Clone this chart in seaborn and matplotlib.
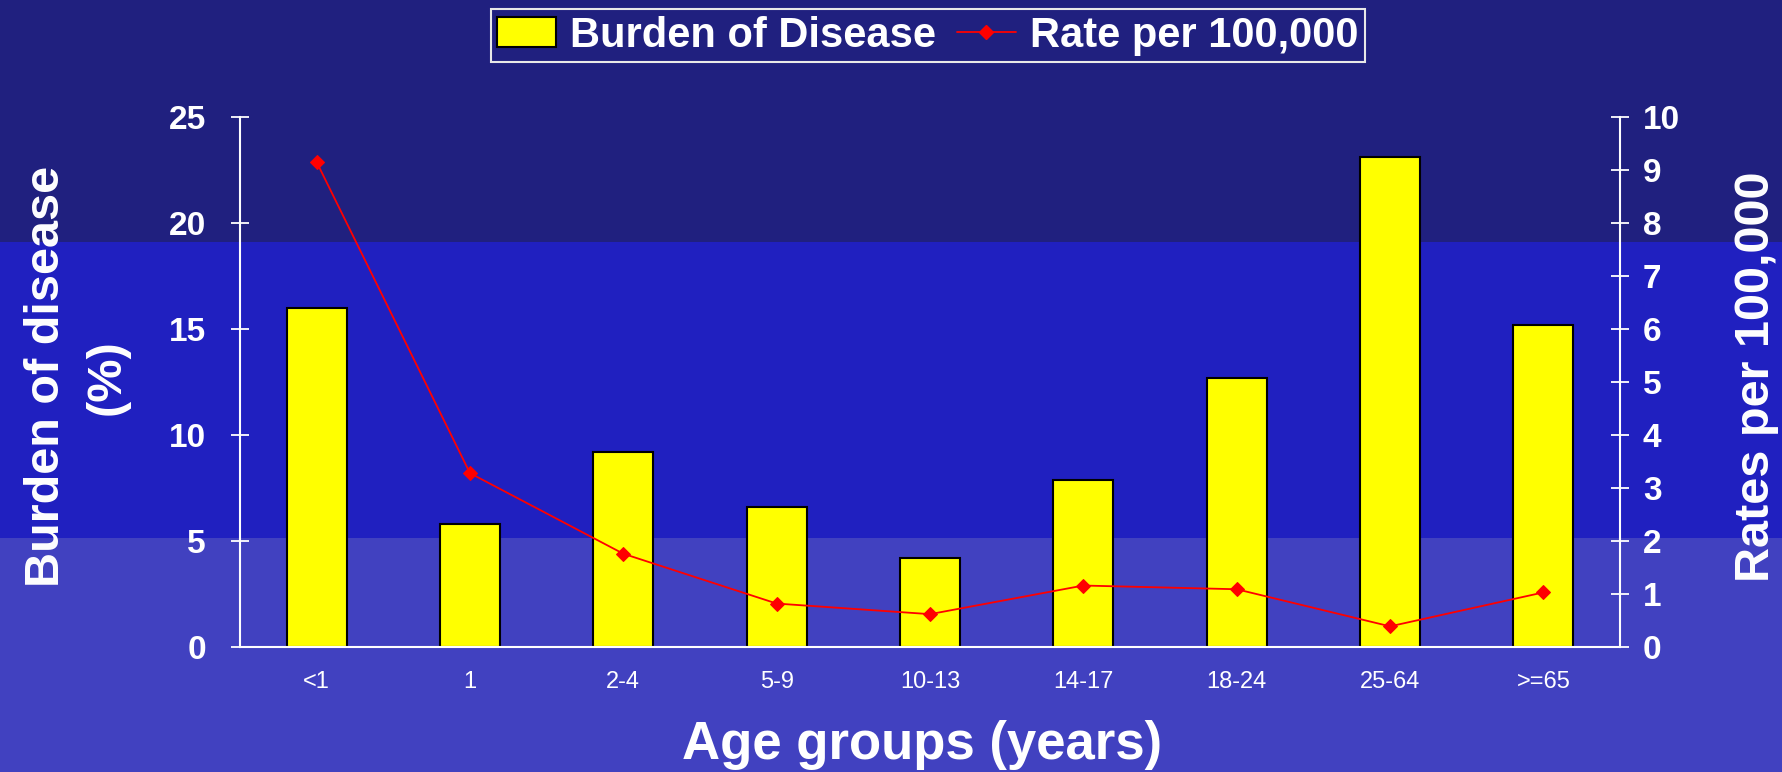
import numpy as np
import pandas as pd
import matplotlib
matplotlib.use("Agg")
import matplotlib.pyplot as plt
from matplotlib import font_manager
from matplotlib.patches import Rectangle, Patch
from matplotlib.lines import Line2D
import seaborn as sns

# ---- data ---------------------------------------------------------------
age_groups = ["<1", "1", "2-4", "5-9", "10-13", "14-17", "18-24", "25-64", ">=65"]
burden_pct = [16.0, 5.8, 9.2, 6.6, 4.2, 7.9, 12.7, 23.1, 15.2]
rate_per_100k = [9.15, 3.28, 1.76, 0.82, 0.62, 1.16, 1.09, 0.39, 1.03]

burden_ticks = [0, 5, 10, 15, 20, 25]
rate_ticks = list(range(0, 11))

# ---- style --------------------------------------------------------------
sns.set_theme(style="white")
available = {f.name for f in font_manager.fontManager.ttflist}
BOLD_FONT = "Liberation Sans"
NARROW_FONT = "Liberation Sans Narrow" if "Liberation Sans Narrow" in available else "Liberation Sans"
plt.rcParams["font.family"] = [BOLD_FONT, "DejaVu Sans"]

BAND_TOP = "#20207f"
BAND_MID = "#2020c0"
BAND_LOW = "#4141c0"
WHITE = "white"

fig = plt.figure(figsize=(17.83, 7.72), dpi=100)
fig.patch.set_facecolor(BAND_LOW)

# three horizontal background bands
for y0, h, c in [(0.0, 0.3031, BAND_LOW), (0.3031, 0.3834, BAND_MID), (0.6865, 0.3135, BAND_TOP)]:
    fig.add_artist(Rectangle((0, y0), 1, h, transform=fig.transFigure,
                             facecolor=c, edgecolor="none", zorder=-10))

ax = fig.add_axes([0.1346, 0.1619, 0.774, 0.6865])
ax.set_facecolor("none")

df = pd.DataFrame({"age": age_groups, "burden": burden_pct, "rate": rate_per_100k})

sns.barplot(data=df, x="age", y="burden", ax=ax, color="#ffff00", saturation=1,
            edgecolor="black", linewidth=1.5, width=0.39, zorder=2)

ax.set_ylim(0, 25)
ax.set_xlim(-0.5, len(age_groups) - 0.5)
ax.set_yticks(burden_ticks)
ax.set_yticklabels([str(t) for t in burden_ticks], fontsize=24, fontweight="bold", color=WHITE)

# category boundary ticks on the x axis, labels at the centres
ax.set_xticks(np.arange(len(age_groups)))
ax.set_xticklabels(age_groups, fontsize=17, color=WHITE, family=[NARROW_FONT, "DejaVu Sans"])
ax.set_xticks(np.arange(len(age_groups) + 1) - 0.5, minor=True)
ax.tick_params(axis="x", which="major", length=0, pad=17)
ax.tick_params(axis="x", which="minor", length=8, width=1.3, color=WHITE, direction="out")
ax.tick_params(axis="y", which="major", length=13, width=1.3, color=WHITE,
               direction="inout", pad=18)

for side in ["left", "bottom"]:
    ax.spines[side].set_color(WHITE)
    ax.spines[side].set_linewidth(1.5)
ax.spines["top"].set_visible(False)
ax.spines["right"].set_visible(False)

ax.set_xlabel("Age groups (years)", fontsize=38, fontweight="bold", color=WHITE, va="center")
ax.xaxis.set_label_coords(0.494, -0.185)
ax.set_ylabel("Burden of disease\n(%)", fontsize=35, fontweight="bold", color=WHITE,
              va="center", ha="center", linespacing=1.45)
ax.yaxis.set_label_coords(-0.118, 0.51)

# ---- rate line on a secondary axis -------------------------------------
ax2 = ax.twinx()
ax2.set_facecolor("none")
sns.lineplot(x=np.arange(len(age_groups)), y=rate_per_100k, ax=ax2, color="#ff0000",
             linewidth=1.3, marker="D", markersize=7, markeredgecolor="#ff0000", zorder=3)
ax2.set_ylim(0, 10)
ax2.set_yticks(rate_ticks)
ax2.set_yticklabels([str(t) for t in rate_ticks], fontsize=24, fontweight="bold", color=WHITE)
ax2.tick_params(axis="y", which="major", length=13, width=1.3, color=WHITE,
                direction="inout", pad=10)
for side in ["top", "left", "bottom"]:
    ax2.spines[side].set_visible(False)
ax2.spines["right"].set_color(WHITE)
ax2.spines["right"].set_linewidth(1.5)
ax2.set_ylabel("Rates per 100,000", fontsize=35, fontweight="bold", color=WHITE,
               va="center", ha="center", rotation=90)
ax2.yaxis.set_label_coords(1.099, 0.51)

# ---- legend -------------------------------------------------------------
handles = [
    Patch(facecolor="#ffff00", edgecolor="black", linewidth=1.5, label="Burden of Disease"),
    Line2D([], [], color="#ff0000", linewidth=1.3, marker="D", markersize=7,
           label="Rate per 100,000"),
]
leg = fig.legend(handles=handles, loc="upper center", bbox_to_anchor=(0.5205, 0.988),
                 ncol=2, frameon=True, fancybox=False, framealpha=1,
                 facecolor=BAND_TOP, edgecolor="#e8e8e8",
                 prop={"family": BOLD_FONT, "weight": "bold", "size": 30},
                 handlelength=1.4, handletextpad=0.35, columnspacing=0.5,
                 borderpad=0.15, borderaxespad=0.0)
leg.get_frame().set_linewidth(1.5)
for txt in leg.get_texts():
    txt.set_color(WHITE)

fig.savefig("out.png", dpi=100, facecolor=fig.get_facecolor())
